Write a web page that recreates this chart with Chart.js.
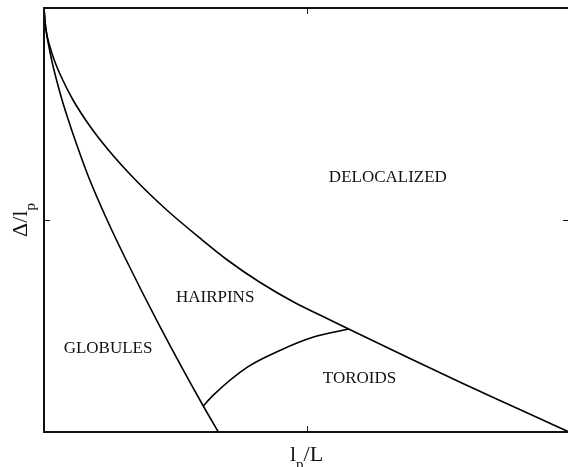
<!DOCTYPE html>
<html>
<head>
<meta charset="utf-8">
<script src="https://cdn.jsdelivr.net/npm/chart.js@4"></script>
<style>
  body { margin: 0; overflow: hidden; background: #fff; }
</style>
</head>
<body>
<canvas id="phase" width="570" height="467"></canvas>
<script>
// phase boundaries (x = lp/L, y = Δ/lp, both 0..1)
const delocX = [0, 0.0034, 0.0120, 0.0216, 0.0357, 0.0553, 0.0859, 0.1227, 0.1744, 0.2338, 0.3015, 0.3492, 0.4103, 0.4790, 0.5296, 0.5802, 0.6832, 0.7958, 0.9084, 1.0];
const delocY = [1.0, 0.9528, 0.9057, 0.8703, 0.8302, 0.7830, 0.7241, 0.6651, 0.5943, 0.5236, 0.4528, 0.4057, 0.3538, 0.3042, 0.2736, 0.2429, 0.1816, 0.1156, 0.0519, 0];

const globX = [0, 0.0015, 0.0053, 0.0107, 0.0158, 0.0239, 0.0344, 0.0464, 0.0592, 0.0849, 0.1202, 0.1565, 0.2214, 0.3034, 0.3321];
const globY = [1.0, 0.9717, 0.9363, 0.9009, 0.8703, 0.8302, 0.7830, 0.7358, 0.6887, 0.6014, 0.5, 0.4057, 0.2476, 0.0613, 0];

const toroX = [0.3034, 0.3225, 0.3874, 0.4504, 0.5134, 0.5802];
const toroY = [0.0613, 0.087, 0.153, 0.193, 0.224, 0.2429];

const xTicks = [0.5];
const yTicks = [0.5];

const regionNames = ['DELOCALIZED', 'HAIRPINS', 'GLOBULES', 'TOROIDS'];
const regionX = [0.655, 0.326, 0.122, 0.601];
const regionY = [0.599, 0.318, 0.198, 0.125];

const toPoints = (xs, ys) => xs.map((x, i) => ({ x: x, y: ys[i] }));

const line = (label, xs, ys) => ({
    label: label,
    data: toPoints(xs, ys),
    showLine: true,
    borderColor: '#000',
    borderWidth: 1.6,
    pointRadius: 0,
    cubicInterpolationMode: 'monotone'
});

// frame, inward ticks, region names and axis titles
const decor = {
    id: 'decor',
    afterDraw(chart) {
        const ctx = chart.ctx;
        const a = chart.chartArea;
        const sx = chart.scales.x;
        const sy = chart.scales.y;
        ctx.save();
        ctx.strokeStyle = '#111';
        ctx.lineWidth = 2;
        ctx.beginPath();
        ctx.rect(a.left, a.top, a.right - a.left, a.bottom - a.top);
        ctx.stroke();

        ctx.lineWidth = 1;
        ctx.beginPath();
        xTicks.forEach(v => {
            const px = Math.round(sx.getPixelForValue(v)) + 0.5;
            ctx.moveTo(px, a.bottom); ctx.lineTo(px, a.bottom - 6);
            ctx.moveTo(px, a.top); ctx.lineTo(px, a.top + 6);
        });
        yTicks.forEach(v => {
            const py = Math.round(sy.getPixelForValue(v)) + 0.5;
            ctx.moveTo(a.left, py); ctx.lineTo(a.left + 6, py);
            ctx.moveTo(a.right, py); ctx.lineTo(a.right - 6, py);
        });
        ctx.stroke();

        ctx.fillStyle = '#111';
        ctx.font = '17px "Liberation Serif"';
        ctx.textAlign = 'center';
        ctx.textBaseline = 'middle';
        regionNames.forEach((name, i) => {
            ctx.fillText(name, sx.getPixelForValue(regionX[i]), sy.getPixelForValue(regionY[i]));
        });

        // text with a subscript: main, sub, rest
        const subText = (x, y, main, sub, rest) => {
            ctx.textAlign = 'left';
            ctx.textBaseline = 'alphabetic';
            ctx.font = '22px "Liberation Serif"';
            const w1 = ctx.measureText(main).width;
            const w3 = ctx.measureText(rest).width;
            ctx.font = '15px "Liberation Serif"';
            const w2 = ctx.measureText(sub).width;
            let cx = x - (w1 + w2 + w3) / 2;
            ctx.font = '22px "Liberation Serif"';
            ctx.fillText(main, cx, y);
            cx += w1;
            ctx.font = '15px "Liberation Serif"';
            ctx.fillText(sub, cx, y + 8);
            cx += w2;
            ctx.font = '22px "Liberation Serif"';
            ctx.fillText(rest, cx, y);
        };

        subText(sx.getPixelForValue(0.5), 461, 'l', 'p', '/L');

        ctx.translate(27, sy.getPixelForValue(0.5));
        ctx.rotate(-Math.PI / 2);
        subText(0, 0, '\u0394/l', 'p', '');
        ctx.restore();
    }
};

new Chart(document.getElementById('phase'), {
    type: 'scatter',
    data: {
        datasets: [
            line('delocalized', delocX, delocY),
            line('globules', globX, globY),
            line('toroids', toroX, toroY)
        ]
    },
    options: {
        responsive: false,
        animation: false,
        layout: { padding: { left: 44, top: 8, right: 1, bottom: 35 } },
        scales: {
            x: { type: 'linear', min: 0, max: 1, display: false },
            y: { type: 'linear', min: 0, max: 1, display: false }
        },
        plugins: {
            legend: { display: false },
            tooltip: { enabled: false }
        }
    },
    plugins: [decor]
});
</script>
</body>
</html>
